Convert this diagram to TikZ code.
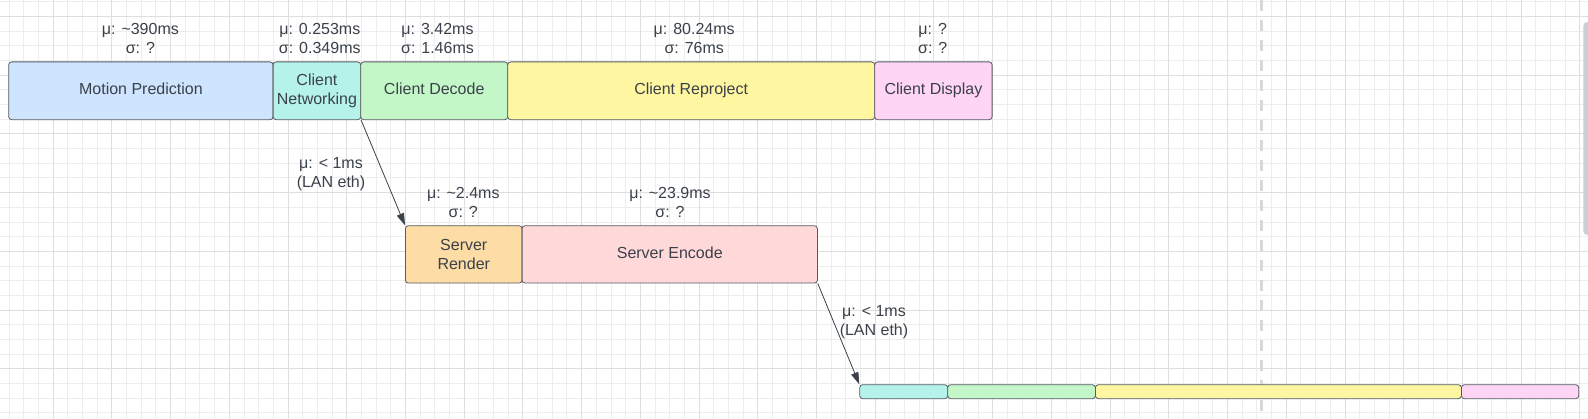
\documentclass[tikz,border=0pt]{standalone}
\usepackage{fontspec}
\setmainfont{Liberation Sans}
\usetikzlibrary{arrows.meta}
\definecolor{txt}{HTML}{3A414A}
\definecolor{bordercol}{HTML}{555B63}
\definecolor{gridminor}{HTML}{EDEDED}
\definecolor{gridmajor}{HTML}{DEDEDE}
\definecolor{dashcol}{HTML}{D8D8D8}
\definecolor{scrollcol}{HTML}{CDCFD3}
\definecolor{cMP}{HTML}{CFE4FF}
\definecolor{cCN}{HTML}{B5F2EA}
\definecolor{cCD}{HTML}{C3F7C8}
\definecolor{cCR}{HTML}{FFF6A1}
\definecolor{cCY}{HTML}{FFD5F5}
\definecolor{cSR}{HTML}{FDDCA5}
\definecolor{cSE}{HTML}{FFD9DA}
\begin{document}
\begin{tikzpicture}[x=1pt,y=-1pt,
  box/.style={draw=bordercol, line width=0.8pt, rounded corners=3pt, anchor=north west,
    inner sep=0pt, align=center, text=txt, font=\fontsize{16}{19}\selectfont},
  oneline/.style={text height=11.6pt, text depth=3.8pt},
  lab/.style={inner sep=0pt, align=center, text=txt, font=\fontsize{16}{19}\selectfont},
  conn/.style={draw=txt, line width=0.8pt, -{Triangle[length=12pt,width=7.5pt]}},
  minorline/.style={draw=gridminor, line width=1pt},
  majorline/.style={draw=gridmajor, line width=1pt}
]
\useasboundingbox (0,0) rectangle (1588,419);
\fill[white] (0,0) rectangle (1588,419);
\begin{scope}
\clip (0,0) rectangle (1588,419);
% grid
\foreach \i in {0,...,109} {
  \pgfmathsetmacro\gx{round(-6.05+14.68*\i)+0.5}
  \draw[minorline] (\gx,0) -- (\gx,419);
}
\foreach \i in {0,...,28} {
  \pgfmathsetmacro\gy{round(1.32+14.68*\i)+0.5}
  \draw[minorline] (0,\gy) -- (1588,\gy);
}
\foreach \i in {0,...,28} {
  \pgfmathsetmacro\gx{round(-6.05+58.72*\i)+0.5}
  \draw[majorline] (\gx,0) -- (\gx,419);
}
\foreach \i in {0,...,7} {
  \pgfmathsetmacro\gy{round(16+58.72*\i)+0.5}
  \draw[majorline] (0,\gy) -- (1588,\gy);
}
% dashed marker line
\draw[dashcol, line width=3pt, dash pattern=on 11pt off 9pt] (1261.5,0) -- (1261.5,419);
% scrollbar
\fill[scrollcol, rounded corners=4pt] (1583.3,22) rectangle (1598,235);
\end{scope}

% top row
\node[box, oneline, fill=cMP, minimum width=264.4pt, minimum height=57.8pt] (mp) at (8.3,61.5) {Motion Prediction};
\node[box, fill=cCN, minimum width=87.6pt, minimum height=57.8pt] (cn) at (272.7,61.5) {Client\\Networking};
\node[box, oneline, fill=cCD, minimum width=147pt, minimum height=57.8pt] (cd) at (360.3,61.5) {Client Decode};
\node[box, oneline, fill=cCR, minimum width=367pt, minimum height=57.8pt] (cr) at (507.3,61.5) {Client Reproject};
\node[box, oneline, fill=cCY, minimum width=117.4pt, minimum height=57.8pt] (cy) at (874.3,61.5) {Client Display};

% top labels
\node[lab] (lmp) at (140.4,38.8) {μ: \textasciitilde390ms\\σ: ?};
\node[lab] (lcn) at (319.8,38.8) {μ: 0.253ms\\σ: 0.349ms};
\node[lab] (lcd) at (437.5,38.8) {μ: 3.42ms\\σ: 1.46ms};
\node[lab] (lcr) at (694.2,38.8) {μ: 80.24ms\\σ: 76ms};
\node[lab] (lcy) at (932.7,38.8) {μ: ?\\σ: ?};

% server row
\node[box, fill=cSR, minimum width=116.7pt, minimum height=57.4pt] (sr) at (405,225.3) {Server\\Render};
\node[box, oneline, fill=cSE, minimum width=295.3pt, minimum height=57.4pt] (se) at (521.7,225.3) {Server Encode};
\node[lab] (lsr) at (463.3,202.8) {μ: \textasciitilde2.4ms\\σ: ?};
\node[lab] (lse) at (670,202.8) {μ: \textasciitilde23.9ms\\σ: ?};

% bottom row
\node[box, fill=cCN, minimum width=88pt, minimum height=14pt] (b1) at (859.3,384.3) {};
\node[box, fill=cCD, minimum width=147.7pt, minimum height=14pt] (b2) at (947.3,384.3) {};
\node[box, fill=cCR, minimum width=366pt, minimum height=14pt] (b3) at (1095,384.3) {};
\node[box, fill=cCY, minimum width=117.3pt, minimum height=14pt] (b4) at (1461,384.3) {};

% connectors
\draw[conn] (cn.south east) -- (sr.north west);
\draw[conn] (se.south east) -- (b1.north west);
\node[lab] (la1) at (331,174.2) {μ: < 1ms\\(LAN eth)};
\node[lab] (la2) at (874,321.9) {μ: < 1ms\\(LAN eth)};
\end{tikzpicture}
\end{document}
